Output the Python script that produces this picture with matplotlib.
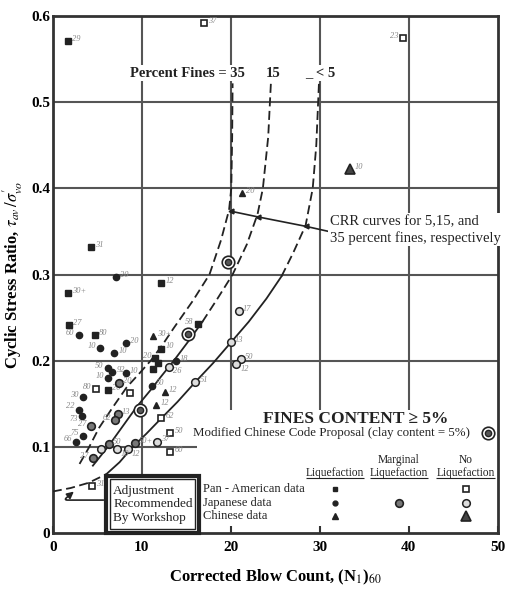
import matplotlib.pyplot as plt
from matplotlib.patches import Rectangle

plt.rcParams['font.family'] = ['Liberation Serif', 'DejaVu Serif']
plt.rcParams['mathtext.fontset'] = 'stix'

# CRR curves: (N1)60 vs CRR
clean_n = [0, 2, 4, 6, 7.5, 9, 10.5, 12, 14, 16, 18, 20, 22, 24, 25.7, 27, 28.4, 29.2, 29.6, 29.9]
clean_crr = [0.048, 0.052, 0.058, 0.068, 0.082, 0.100, 0.115, 0.131, 0.152, 0.175, 0.197, 0.221,
             0.245, 0.272, 0.298, 0.325, 0.357, 0.400, 0.450, 0.522]
fc15_n = [4.5, 6.2, 7.8, 9.4, 11.0, 12.2, 13.6, 15.2, 16.8, 18.5, 20.2, 21.8, 23.0, 23.6, 24.2, 24.5]
fc15_crr = [0.078, 0.100, 0.123, 0.146, 0.166, 0.182, 0.200, 0.222, 0.245, 0.272, 0.300, 0.335,
            0.370, 0.400, 0.460, 0.522]
fc35_n = [3.0, 4.0, 5.2, 6.75, 8.3, 9.8, 11.0, 12.3, 13.6, 15.7, 17.6, 18.9, 19.8, 20.05, 20.15, 20.2]
fc35_crr = [0.080, 0.098, 0.122, 0.146, 0.169, 0.186, 0.200, 0.218, 0.238, 0.269, 0.300, 0.340,
            0.375, 0.400, 0.460, 0.522]

# field data
pa_liq_n = [1.7, 4.3, 12.2, 1.7, 1.8, 4.7, 6.2, 12.2, 11.5, 11.8, 11.3, 16.3]
pa_liq_crr = [0.571, 0.332, 0.290, 0.278, 0.241, 0.230, 0.166, 0.214, 0.203, 0.197, 0.190, 0.242]
pa_liq_lab = ['29', '31', '12', '30+', '27', '80', '20', '10', '20', '', '', '58']
pa_liq_side = ['r', 'r', 'r', 'r', 'r', 'r', 'r', 'r', 'l', 'l', 'l', 'l']

jp_liq_n = [7.1, 2.9, 5.3, 6.9, 8.2, 6.2, 6.7, 6.2, 8.2, 3.4, 2.9, 3.3, 3.4, 11.1, 13.8, 2.6]
jp_liq_crr = [0.297, 0.230, 0.215, 0.209, 0.220, 0.191, 0.187, 0.180, 0.186, 0.158, 0.143, 0.136,
              0.113, 0.171, 0.200, 0.106]
jp_liq_lab = ['20', '60', '10', '10', '20', '50', '92', '10', '10', '30', '22', '73', '75', '50', '18', '66']
jp_liq_side = ['r', 'l', 'l', 'r', 'r', 'l', 'r', 'l', 'r', 'l', 'lu', 'ld', 'l', 'r', 'r', 'l']

pa_no_n = [17.0, 39.3, 4.8, 8.7, 13.2, 13.2, 4.4, 12.2]
pa_no_crr = [0.592, 0.575, 0.167, 0.162, 0.116, 0.094, 0.054, 0.133]
pa_no_lab = ['37', '23', '80', '', '50', '60', '31', '62']
pa_no_side = ['r', 'l', 'l', 'l', 'r', 'r', 'r', 'r']

jp_marg_n = [7.4, 7.3, 7.0, 4.3, 9.2, 4.5, 6.3]
jp_marg_crr = [0.174, 0.138, 0.131, 0.124, 0.104, 0.087, 0.103]
jp_marg_lab = ['20', '13', '62', '27', '50+', '27', '50']
jp_marg_side = ['r', 'r', 'l', 'l', 'r', 'l', 'r']

jp_no_n = [20.9, 20.0, 21.1, 20.6, 16.0, 13.0, 5.4, 7.2, 8.4, 11.7]
jp_no_crr = [0.258, 0.222, 0.202, 0.196, 0.175, 0.193, 0.097, 0.097, 0.097, 0.106]
jp_no_lab = ['17', '13', '50', '12', '51', '26', '', '10', '12', '37']
jp_no_side = ['r', 'r', 'r', 'd', 'r', 'd', 'r', 'd', 'd', 'r']

ch_liq_n = [21.2, 11.2, 12.6, 11.6]
ch_liq_crr = [0.395, 0.229, 0.163, 0.148]
ch_liq_lab = ['20', '30+', '12', '12']

ch_no_n = [33.4]
ch_no_crr = [0.423]
ch_no_lab = ['10']

mod_ch_n = [19.7, 15.2, 9.8]
mod_ch_crr = [0.315, 0.231, 0.143]

# arrow points of the CRR note
note_n = [20.0, 23.0, 28.4]
note_crr = [0.3735, 0.367, 0.356]

col_names = ['Liquefaction', 'Marginal\nLiquefaction', 'No\nLiquefaction']
row_names = ['Pan - American data', 'Japanese data', 'Chinese data']

ink = '#222222'
grid_c = '#555555'
lab_c = '#888888'

fig = plt.figure(figsize=(5.08, 6.0), dpi=100)
ax = fig.add_axes([0.104, 0.112, 0.876, 0.861])
ax.set_xlim(0, 50)
ax.set_ylim(0, 0.6)

# grid (partly hidden by the legend block)
ax.vlines(10, 0.065, 0.6, color=grid_c, lw=1.5, zorder=1)
ax.vlines([20, 30, 40], 0.143, 0.6, color=grid_c, lw=1.5, zorder=1)
ax.hlines(0.1, 0, 16.2, color=grid_c, lw=1.5, zorder=1)
ax.hlines([0.2, 0.3, 0.4, 0.5], 0, 50, color=grid_c, lw=1.5, zorder=1)

# curves
def seg(n, c, lo, hi):
    return ([a for a in n if lo <= a <= hi], [b for a, b in zip(n, c) if lo <= a <= hi])

dash = dict(color=ink, lw=1.3, ls=(0, (5, 2.5)), zorder=3)
solid = dict(color=ink, lw=1.3, zorder=3)
ax.plot(*seg(clean_n, clean_crr, 0, 6), **dash)
ax.plot(*seg(clean_n, clean_crr, 6, 25.7), **solid)
ax.plot(*seg(clean_n, clean_crr, 25.7, 99), **dash)
ax.plot(*seg(fc15_n, fc15_crr, 0, 16.8), **solid)
ax.plot(*seg(fc15_n, fc15_crr, 16.8, 99), **dash)
ax.plot(fc35_n, fc35_crr, **dash)

# CRR note
ax.plot([31.0] + note_n[::-1], [0.350] + note_crr[::-1], color=ink, lw=1.2, zorder=3)
ax.plot(note_n, note_crr, ls='none', marker='<', ms=3.5, color=ink, zorder=4)
ax.text(31.1, 0.352, 'CRR curves for 5,15, and\n35 percent fines, respectively', fontsize=10.5,
        va='center', ha='left', linespacing=1.3, color=ink,
        bbox=dict(fc='white', ec='none', pad=1), zorder=5)

tb = dict(fc='white', ec='none', pad=1)
ax.text(21.6, 0.534, 'Percent Fines = 35', fontsize=10.5, fontweight='bold', ha='right',
        va='center', color=ink, bbox=tb, zorder=5)
ax.text(24.8, 0.534, '15', fontsize=10.5, fontweight='bold', ha='center', va='center',
        color=ink, bbox=tb, zorder=5)
ax.text(30.0, 0.534, '_ < 5', fontsize=10.5, fontweight='bold', ha='center', va='center',
        color=ink, bbox=tb, zorder=5)

offsets = {'r': (3, 1.5), 'l': (-3, 1.5), 'd': (3, -3.5), 'lu': (-3, 3), 'ld': (-3, -2.5)}

def points(n, c, labs, sides, **kw):
    ax.plot(n, c, ls='none', zorder=6, **kw)
    for a, b, t, s in zip(n, c, labs, sides):
        if not t:
            continue
        ax.annotate(t, (a, b), xytext=offsets[s], textcoords='offset points', fontsize=6,
                    ha='right' if s.startswith('l') else 'left', va='center', color=lab_c,
                    style='italic', zorder=6)

sq = dict(marker='s', ms=4, mfc=ink, mec=ink)
sq_open = dict(marker='s', ms=5, mfc='white', mec=ink, mew=1.2)
ci = dict(marker='o', ms=4.5, mfc=ink, mec=ink)
ci_marg = dict(marker='o', ms=5.5, mfc='#777777', mec=ink, mew=1.2)
ci_open = dict(marker='o', ms=5.5, mfc='#dddddd', mec=ink, mew=1.1)
tri = dict(marker='^', ms=5, mfc=ink, mec=ink)
tri_no = dict(marker='^', ms=7, mfc='#444444', mec=ink, mew=1.2)

points(pa_liq_n, pa_liq_crr, pa_liq_lab, pa_liq_side, **sq)
points(jp_liq_n, jp_liq_crr, jp_liq_lab, jp_liq_side, **ci)
points(pa_no_n, pa_no_crr, pa_no_lab, pa_no_side, **sq_open)
points(jp_marg_n, jp_marg_crr, jp_marg_lab, jp_marg_side, **ci_marg)
points(jp_no_n, jp_no_crr, jp_no_lab, jp_no_side, **ci_open)
points(ch_liq_n, ch_liq_crr, ch_liq_lab, ['r'] * 4, **tri)
points(ch_no_n, ch_no_crr, ch_no_lab, ['r'], **tri_no)

def bullseye(n, c):
    ax.plot(n, c, ls='none', marker='o', ms=9, mfc='white', mec=ink, mew=1.2, zorder=6)
    ax.plot(n, c, ls='none', marker='o', ms=4.5, mfc='#555555', mec=ink, zorder=7)

bullseye(mod_ch_n, mod_ch_crr)

# adjustment box
ax.add_patch(Rectangle((6.0, 0.0), 10.4, 0.066, fc='white', ec=ink, lw=3, zorder=5, clip_on=False))
ax.add_patch(Rectangle((6.45, 0.004), 9.5, 0.058, fc='none', ec=ink, lw=1, zorder=5))
ax.text(6.8, 0.033, 'Adjustment\nRecommended\nBy Workshop', fontsize=9.5, ha='left', va='center',
        linespacing=1.15, color=ink, zorder=6)
ax.annotate('', xy=(2.6, 0.050), xytext=(6.0, 0.038),
            arrowprops=dict(arrowstyle='-|>', color=ink, lw=1.2,
                            connectionstyle='angle,angleA=0,angleB=40,rad=4'),
            zorder=6)

# legend block
ax.text(34.0, 0.1325, 'FINES CONTENT \u2265 5%', fontsize=12.5, fontweight='bold', ha='center',
        va='center', color=ink)
ax.text(15.8, 0.116, 'Modified Chinese Code Proposal (clay content = 5%)', fontsize=9.3,
        ha='left', va='center', color='#222222')
bullseye([48.9], [0.116])

col_x = [31.7, 38.9, 46.4]
row_y = [0.051, 0.035, 0.019]
for cx, name in zip(col_x, col_names):
    ax.text(cx, 0.0665, name, fontsize=8.3, ha='center', va='baseline', linespacing=1.05, color=ink)
    ax.hlines(0.0635, cx - 3.3, cx + 3.3, color=ink, lw=0.8)
for ry, name in zip(row_y, row_names):
    ax.text(16.9, ry, name, fontsize=9, ha='left', va='center', color=ink)

ax.plot(col_x[0], row_y[0], ls='none', **dict(sq, ms=3.5))
ax.plot(col_x[2], row_y[0], ls='none', **sq_open)
ax.plot(col_x[0], row_y[1], ls='none', **dict(ci, ms=3.5))
ax.plot(col_x[1], row_y[1], ls='none', **ci_marg)
ax.plot(col_x[2], row_y[1], ls='none', **ci_open)
ax.plot(col_x[0], row_y[2], ls='none', **dict(tri, ms=4.5))
ax.plot(col_x[2], row_y[2], ls='none', **tri_no)

# axes styling
for sp in ax.spines.values():
    sp.set_linewidth(2)
    sp.set_color('#333333')
ax.set_xticks([0, 10, 20, 30, 40, 50])
ax.set_yticks([0, 0.1, 0.2, 0.3, 0.4, 0.5, 0.6])
ax.set_yticklabels(['0', '0.1', '0.2', '0.3', '0.4', '0.5', '0.6'])
ax.tick_params(axis='x', direction='in', length=5, width=1.5, labelsize=11, pad=6, color='#333333')
ax.tick_params(axis='y', length=0, labelsize=11, pad=2)
for t in ax.get_xticklabels() + ax.get_yticklabels():
    t.set_fontweight('bold')
ax.set_ylabel("Cyclic Stress Ratio, $\\tau_{av}\\,/\\sigma_{vo}'$", fontsize=12, fontweight='bold')
ax.yaxis.set_label_coords(-0.063, 0.5)
ax.set_xlabel('Corrected Blow Count, (N$_1$)$_{60}$', fontsize=12, fontweight='bold')
ax.xaxis.set_label_coords(0.5, -0.068)

fig.savefig('out.png', dpi=100)
